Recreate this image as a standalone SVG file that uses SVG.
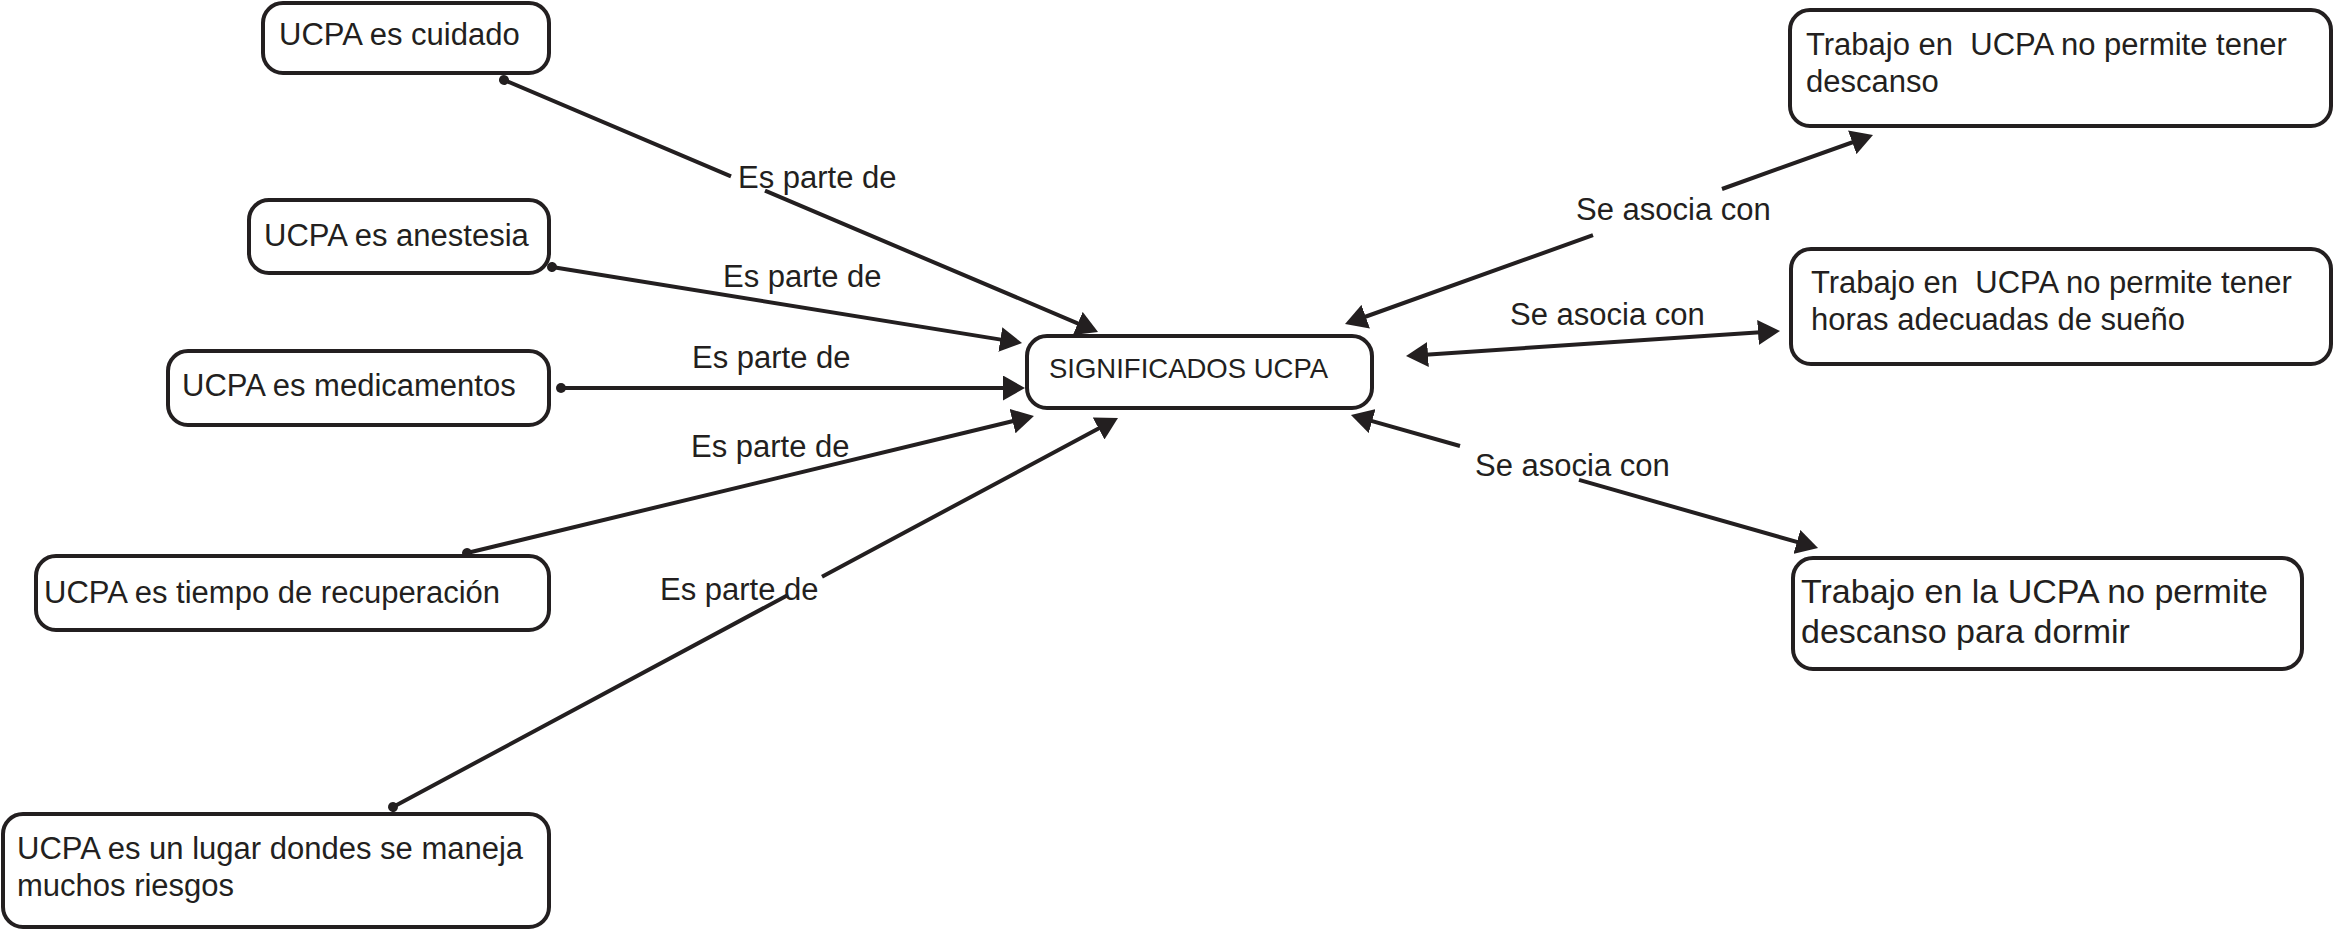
<svg xmlns="http://www.w3.org/2000/svg" width="2334" height="930" viewBox="0 0 2334 930">
<style>
.box{fill:#fff;stroke:#231f20;stroke-width:4}
.t{font-family:"Liberation Sans",Arial,sans-serif;font-size:31px;fill:#231f20}
.c{stroke:#231f20;stroke-width:4;fill:none}
</style>
<defs>
<marker id="arr" markerUnits="userSpaceOnUse" markerWidth="22" markerHeight="25" viewBox="0 0 22 25" refX="10" refY="12.5" orient="auto-start-reverse"><path d="M0,0 L22,12.5 L0,25 z" fill="#231f20"/></marker>
<marker id="dot" markerUnits="userSpaceOnUse" markerWidth="12" markerHeight="12" viewBox="0 0 12 12" refX="6" refY="6" orient="auto"><circle cx="6" cy="6" r="5" fill="#231f20"/></marker>
</defs>
<rect width="2334" height="930" fill="#fff"/>
<g id="connectors">
<path class="c" d="M504,80 L731,176.3 M765,190.7 L1087,327.3" marker-start="url(#dot)" marker-end="url(#arr)"/>
<path class="c" d="M552,267 L1010.2,341.1" marker-start="url(#dot)" marker-end="url(#arr)"/>
<path class="c" d="M561,388 L1013,388" marker-start="url(#dot)" marker-end="url(#arr)"/>
<path class="c" d="M467,553 L1022.3,418.8" marker-start="url(#dot)" marker-end="url(#arr)"/>
<path class="c" d="M393,807 L788,595 M822,576.8 L1107.4,423.7" marker-start="url(#dot)" marker-end="url(#arr)"/>
<path class="c" d="M1356.3,320 L1593,235.2 M1722,189 L1861.7,139" marker-start="url(#arr)" marker-end="url(#arr)"/>
<path class="c" d="M1418,355.2 L1768,331.8" marker-start="url(#arr)" marker-end="url(#arr)"/>
<path class="c" d="M1362.5,418.3 L1460,446 M1579,479.9 L1806.5,544.7" marker-start="url(#arr)" marker-end="url(#arr)"/>
<text class="t" x="738" y="188">Es parte de</text>
<text class="t" x="723" y="287">Es parte de</text>
<text class="t" x="692" y="368">Es parte de</text>
<text class="t" x="691" y="457">Es parte de</text>
<text class="t" x="660" y="600">Es parte de</text>
<text class="t" x="1576" y="220">Se asocia con</text>
<text class="t" x="1510" y="325">Se asocia con</text>
<text class="t" x="1475" y="476">Se asocia con</text>
</g>
<g id="n-cuidado"><rect class="box" x="263" y="3" width="286" height="70" rx="20"/><text class="t" x="279" y="45">UCPA es cuidado</text></g>
<g id="n-anestesia"><rect class="box" x="249" y="200" width="300" height="73" rx="20"/><text class="t" x="264" y="246">UCPA es anestesia</text></g>
<g id="n-medicamentos"><rect class="box" x="168" y="351" width="381" height="74" rx="20"/><text class="t" x="182" y="396">UCPA es medicamentos</text></g>
<g id="n-tiempo"><rect class="box" x="36" y="556" width="513" height="74" rx="20"/><text class="t" x="44" y="603">UCPA es tiempo de recuperación</text></g>
<g id="n-lugar"><rect class="box" x="3" y="814" width="546" height="113" rx="20"/><text class="t" x="17" y="859">UCPA es un lugar dondes se maneja</text><text class="t" x="17" y="896">muchos riesgos</text></g>
<g id="n-centro"><rect class="box" x="1027" y="336" width="345" height="72" rx="20"/><text class="t" x="1049" y="378" style="font-size:27.5px">SIGNIFICADOS UCPA</text></g>
<g id="n-descanso"><rect class="box" x="1790" y="10" width="541" height="116" rx="20"/><text class="t" x="1806" y="55" xml:space="preserve">Trabajo en  UCPA no permite tener</text><text class="t" x="1806" y="92">descanso</text></g>
<g id="n-horas"><rect class="box" x="1791" y="249" width="540" height="115" rx="20"/><text class="t" x="1811" y="293" xml:space="preserve">Trabajo en  UCPA no permite tener</text><text class="t" x="1811" y="330">horas adecuadas de sueño</text></g>
<g id="n-dormir"><rect class="box" x="1793" y="558" width="509" height="111" rx="20"/><text class="t" x="1801" y="603" style="font-size:34px">Trabajo en la UCPA no permite</text><text class="t" x="1801" y="643" style="font-size:34px">descanso para dormir</text></g>
</svg>
